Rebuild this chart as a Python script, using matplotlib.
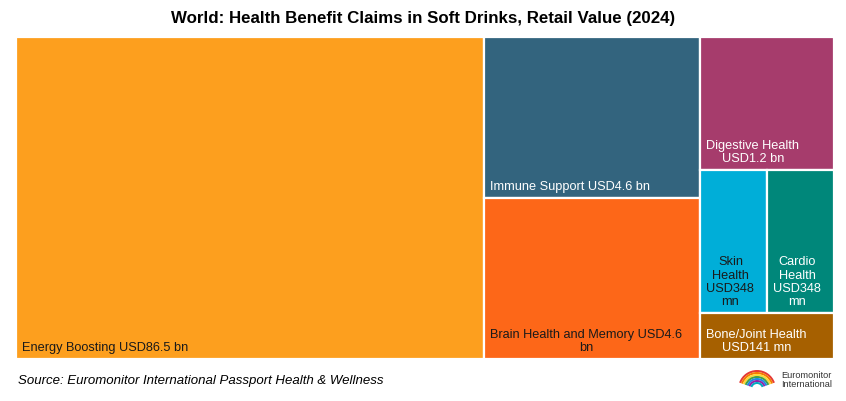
import numpy as np
import matplotlib.pyplot as plt
from matplotlib.patches import Rectangle, Wedge

# data
claims = ["Energy Boosting", "Immune Support", "Brain Health and Memory",
          "Digestive Health", "Skin Health", "Cardio Health", "Bone/Joint Health"]
value_mn = [86500, 4600, 4600, 1200, 348, 348, 141]
labels = ["Energy Boosting USD86.5 bn",
          "Immune Support USD4.6 bn",
          "Brain Health and Memory USD4.6\nbn",
          "Digestive Health\nUSD1.2 bn",
          "Skin\nHealth\nUSD348\nmn",
          "Cardio\nHealth\nUSD348\nmn",
          "Bone/Joint Health\nUSD141 mn"]
colors = ["#FD9F1E", "#33647E", "#FD6718", "#A63C6C", "#00AED8", "#00877A", "#A66000"]
text_colors = ["#1a1a1a", "white", "#1a1a1a", "white", "#1a1a1a", "white", "white"]

# tile nesting: columns left to right, each a vertical stack; tuples are side-by-side rows
groups = [[0], [1, 2], [3, (4, 5), 6]]

# tile area follows the square root of the value (as in the source chart)
w = {i: np.sqrt(v) for i, v in enumerate(value_mn)}


def weight(node):
    if isinstance(node, (list, tuple)):
        return sum(weight(n) for n in node)
    return w[node]


x0, y0, x1, y1 = 16, 37, 834, 359
tiles = {}
total = weight(groups)
cx = x0
for col in groups:
    cw = (x1 - x0) * weight(col) / total
    cy = y0
    for item in col:
        ch = (y1 - y0) * weight(item) / weight(col)
        if isinstance(item, tuple):
            rx = cx
            for sub in item:
                sw = cw * w[sub] / weight(item)
                tiles[sub] = (rx, cy, sw, ch)
                rx += sw
        else:
            tiles[item] = (cx, cy, cw, ch)
        cy += ch
    cx += cw

fig = plt.figure(figsize=(8.46, 4.01), dpi=100)
ax = fig.add_axes([0, 0, 1, 1])
ax.set_xlim(0, 846)
ax.set_ylim(401, 0)
ax.axis("off")

for i in range(len(claims)):
    x, y, tw, th = tiles[i]
    ax.add_patch(Rectangle((x, y), tw, th, facecolor=colors[i],
                           edgecolor="white", linewidth=1.6))
    ax.text(x + 6, y + th - 5, labels[i], ha="left", va="bottom",
            multialignment="center", color=text_colors[i],
            fontsize=9.2, family="Liberation Sans", linespacing=1.15)

ax.text(423, 19, "World: Health Benefit Claims in Soft Drinks, Retail Value (2024)",
        ha="center", va="center", fontsize=12.2, fontweight="bold",
        family="Liberation Sans")
ax.text(18, 381, "Source: Euromonitor International Passport Health & Wellness",
        ha="left", va="center", fontsize=9.5, style="italic",
        family="Liberation Sans")

# logo
logo_cols = ["#E53935", "#F57C00", "#FDD835", "#43A047", "#1E88E5", "#8E24AA", "#00ACC1"]
for k, c in enumerate(logo_cols):
    ax.add_patch(Wedge((757, 389), 19 - k * 2.0, 200, 340, width=2.0,
                       facecolor=c, edgecolor="none"))
ax.text(781, 380, "Euromonitor\nInternational", ha="left", va="center",
        fontsize=6.6, family="Liberation Sans", color="#333333", linespacing=0.95)

fig.savefig("out.png", dpi=100)
